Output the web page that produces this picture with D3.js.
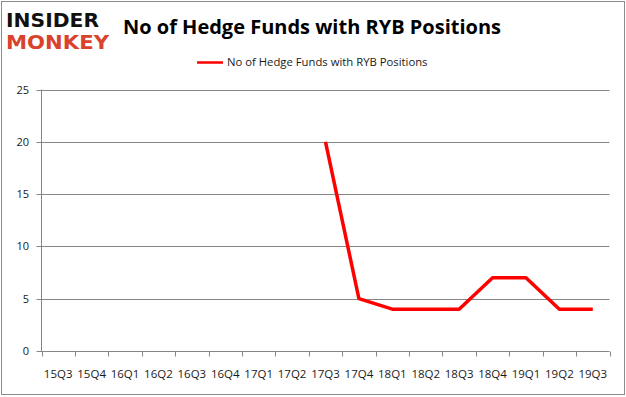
<!DOCTYPE html>
<html>
<head>
<meta charset="utf-8">
<script src="https://cdn.jsdelivr.net/npm/d3@7"></script>
<style>
  html, body { margin: 0; padding: 0; background: #fff; }
  svg { display: block; }
</style>
</head>
<body>
<div id="chart"></div>
<script>
// quarters on the x axis
const quarters = ["15Q3", "15Q4", "16Q1", "16Q2", "16Q3", "16Q4", "17Q1", "17Q2",
    "17Q3", "17Q4", "18Q1", "18Q2", "18Q3", "18Q4", "19Q1", "19Q2", "19Q3"];
// hedge fund counts, null where there is no data
const funds = [null, null, null, null, null, null, null, null,
    20, 5, 4, 4, 4, 7, 7, 4, 4];
const yTicks = [0, 5, 10, 15, 20, 25];
const seriesName = "No of Hedge Funds with RYB Positions";
const title = "No of Hedge Funds with RYB Positions";

const width = 626, height = 397;
const margin = { top: 89.5, right: 16.5, bottom: 46, left: 41.5 };
const font = "'Open Sans', 'DejaVu Sans', sans-serif";

const svg = d3.select("#chart").append("svg")
    .attr("width", width)
    .attr("height", height);

// outer frame
svg.append("rect")
    .attr("x", 1.5).attr("y", 1.5)
    .attr("width", width - 3).attr("height", height - 4)
    .attr("fill", "#fff")
    .attr("stroke", "#8c8c8c")
    .attr("stroke-width", 1);

const x = d3.scaleBand()
    .domain(quarters)
    .range([margin.left, width - margin.right]);

const y = d3.scaleLinear()
    .domain([0, 25])
    .range([height - margin.bottom, margin.top]);

// gridlines
svg.append("g")
    .selectAll("line")
    .data(yTicks)
    .join("line")
    .attr("x1", margin.left - 5)
    .attr("x2", width - margin.right)
    .attr("y1", d => Math.round(y(d)) + 0.5)
    .attr("y2", d => Math.round(y(d)) + 0.5)
    .attr("stroke", "#868686")
    .attr("stroke-width", 1);

// y labels
svg.append("g")
    .selectAll("text")
    .data(yTicks)
    .join("text")
    .attr("x", 29)
    .attr("y", d => y(d) + 4)
    .attr("text-anchor", "end")
    .attr("font-family", font)
    .attr("font-size", 11)
    .attr("fill", "#1a1a1a")
    .text(d => d);

// y axis line
svg.append("line")
    .attr("x1", margin.left).attr("x2", margin.left)
    .attr("y1", margin.top).attr("y2", height - margin.bottom)
    .attr("stroke", "#868686");

// x axis with tick marks at band edges
const xAxisY = Math.round(y(0)) + 0.5;
const edges = quarters.map(q => x(q)).concat([x(quarters[quarters.length - 1]) + x.bandwidth()]);
svg.append("g")
    .selectAll("line")
    .data(edges)
    .join("line")
    .attr("x1", d => Math.round(d) + 0.5)
    .attr("x2", d => Math.round(d) + 0.5)
    .attr("y1", xAxisY)
    .attr("y2", xAxisY + 5)
    .attr("stroke", "#868686");

svg.append("g")
    .selectAll("text")
    .data(quarters)
    .join("text")
    .attr("x", d => x(d) + x.bandwidth() / 2)
    .attr("y", 378)
    .attr("text-anchor", "middle")
    .attr("font-family", font)
    .attr("font-size", 11.5)
    .attr("fill", "#1a1a1a")
    .text(d => d);

// data line
const pts = quarters.map((q, i) => ({ q, v: funds[i] }));
const line = d3.line()
    .defined(d => d.v != null)
    .x(d => x(d.q) + x.bandwidth() / 2)
    .y(d => y(d.v));

svg.append("path")
    .datum(pts)
    .attr("d", line)
    .attr("fill", "none")
    .attr("stroke", "#ff0000")
    .attr("stroke-width", 3.5)
    .attr("stroke-linejoin", "round");

// title
svg.append("text")
    .attr("x", 312)
    .attr("y", 34)
    .attr("text-anchor", "middle")
    .attr("font-family", font)
    .attr("font-weight", "bold")
    .attr("font-size", 20)
    .attr("fill", "#000")
    .text(title);

// legend
svg.append("line")
    .attr("x1", 197).attr("x2", 223)
    .attr("y1", 62.5).attr("y2", 62.5)
    .attr("stroke", "#ff0000")
    .attr("stroke-width", 2.5);
svg.append("text")
    .attr("x", 227)
    .attr("y", 66)
    .attr("font-family", font)
    .attr("font-size", 11.3)
    .attr("fill", "#1a1a1a")
    .text(seriesName);

// logo, squashed so the two lines sit close like the original wordmark
const logo = svg.append("g").attr("transform", "translate(6,0) scale(1,1.25)");
logo.append("text")
    .attr("x", 0).attr("y", 22)
    .attr("font-family", "'DejaVu Sans', sans-serif")
    .attr("font-weight", "bold")
    .attr("font-size", 15)
    .attr("textLength", 93)
    .attr("lengthAdjust", "spacingAndGlyphs")
    .attr("fill", "#111")
    .text("INSIDER");
logo.append("text")
    .attr("x", 0).attr("y", 39)
    .attr("font-family", "'DejaVu Sans', sans-serif")
    .attr("font-weight", "bold")
    .attr("font-size", 15)
    .attr("textLength", 103)
    .attr("lengthAdjust", "spacingAndGlyphs")
    .attr("fill", "#d9432b")
    .text("MONKEY");
</script>
</body>
</html>
